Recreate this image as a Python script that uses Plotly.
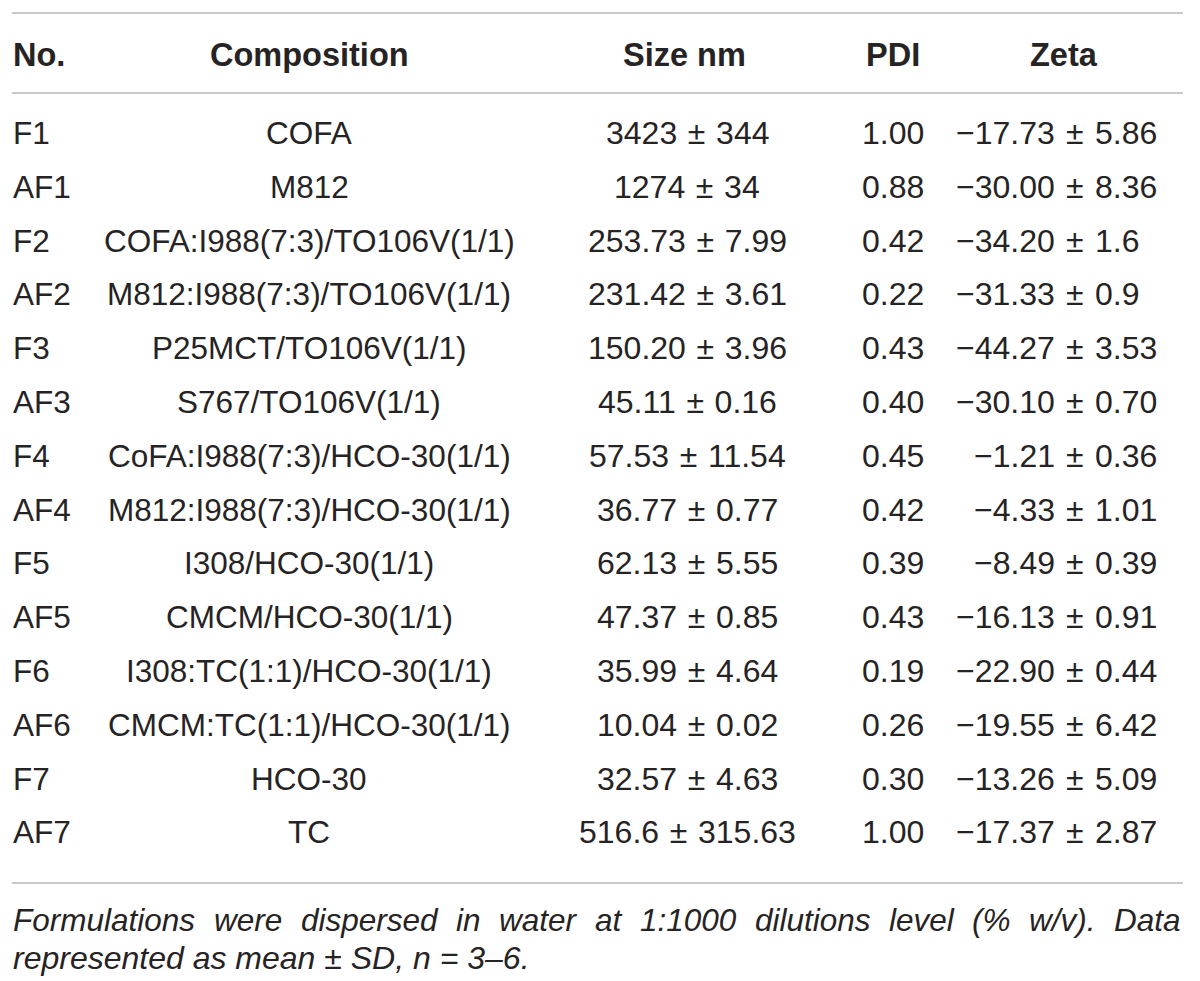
import plotly.graph_objects as go

# table content
headers = ["No.", "Composition", "Size nm", "PDI", "Zeta"]
codes = ["F1", "AF1", "F2", "AF2", "F3", "AF3", "F4", "AF4", "F5", "AF5", "F6", "AF6", "F7", "AF7"]
compositions = [
    "COFA", "M812", "COFA:I988(7:3)/TO106V(1/1)", "M812:I988(7:3)/TO106V(1/1)",
    "P25MCT/TO106V(1/1)", "S767/TO106V(1/1)", "CoFA:I988(7:3)/HCO-30(1/1)",
    "M812:I988(7:3)/HCO-30(1/1)", "I308/HCO-30(1/1)", "CMCM/HCO-30(1/1)",
    "I308:TC(1:1)/HCO-30(1/1)", "CMCM:TC(1:1)/HCO-30(1/1)", "HCO-30", "TC",
]
size_mean = ["3423", "1274", "253.73", "231.42", "150.20", "45.11", "57.53", "36.77",
             "62.13", "47.37", "35.99", "10.04", "32.57", "516.6"]
size_sd = ["344", "34", "7.99", "3.61", "3.96", "0.16", "11.54", "0.77",
           "5.55", "0.85", "4.64", "0.02", "4.63", "315.63"]
pdi = ["1.00", "0.88", "0.42", "0.22", "0.43", "0.40", "0.45", "0.42",
       "0.39", "0.43", "0.19", "0.26", "0.30", "1.00"]
zeta_mean = ["−17.73", "−30.00", "−34.20", "−31.33", "−44.27", "−30.10", "−1.21", "−4.33",
             "−8.49", "−16.13", "−22.90", "−19.55", "−13.26", "−17.37"]
zeta_sd = ["5.86", "8.36", "1.6", "0.9", "3.53", "0.70", "0.36", "1.01",
           "0.39", "0.91", "0.44", "6.42", "5.09", "2.87"]
caption1 = "Formulations were dispersed in water at 1:1000 dilutions level (% w/v). Data"
caption2 = "represented as mean ± SD, n = 3–6."

W, H = 1200, 981
OFF = 8                # page margin around the plot div
ROW_H = 53.8           # px per table row
TOP = (OFF - 133) / ROW_H   # row 0 sits at 133px on the page
BOT = TOP + H / ROW_H

def py(p):
    # page pixel -> y axis value
    return (p - 133) / ROW_H

FONT = "Liberation Sans, Arial, sans-serif"
INK = "#262324"
RULE = "#c9c9c9"
FS = 31.5
NUM_FS = 32
SP = "\u2004"   # a little wider than a normal space, around the plus-minus
LEFT, RIGHT = 12, 1180

# helvetica/arial advance widths (per 1000 em), used to justify the caption line
ADV = {"F": 611, "o": 556, "r": 333, "m": 833, "u": 556, "l": 222, "a": 556, "t": 278,
       "i": 222, "n": 556, "s": 500, "w": 722, "e": 556, "d": 556, "p": 556, "1": 556,
       ":": 278, "0": 556, "v": 500, "(": 333, "%": 889, "/": 278, ")": 333, ".": 278,
       "D": 722}

fig = go.Figure()
fig.add_trace(go.Scatter(x=[OFF, W + OFF], y=[TOP, BOT], mode="markers",
                         marker=dict(opacity=0), hoverinfo="skip", showlegend=False))

ann = []
def txt(x, y, s, anchor="center", bold=False, italic=False, size=FS):
    ann.append(dict(x=x, y=y, xref="x", yref="y", text=s, showarrow=False,
                    xanchor=anchor, yanchor="middle", borderpad=0,
                    font=dict(family=FONT, size=size, color=INK,
                              weight="bold" if bold else "normal",
                              style="italic" if italic else "normal")))

# header row
hy = py(55)
txt(LEFT, hy, headers[0], "left", bold=True, size=32.5)
txt(309, hy, headers[1], bold=True, size=32.5)
txt(684, hy, headers[2], bold=True, size=32.5)
txt(893, hy, headers[3], bold=True, size=32.5)
txt(1064, hy, headers[4], bold=True, size=32.5)

# body rows
PM_X = 1075
for i in range(len(codes)):
    txt(LEFT, i, codes[i], "left")
    txt(309, i, compositions[i])
    txt(687, i, size_mean[i] + SP + "±" + SP + size_sd[i], size=NUM_FS)
    txt(893, i, pdi[i], size=NUM_FS)
    txt(PM_X - 19, i, zeta_mean[i], "right", size=NUM_FS)
    txt(PM_X, i, "±", size=NUM_FS)
    txt(PM_X + 19, i, zeta_sd[i], "left", size=NUM_FS)

# caption, first line justified word by word
words = caption1.split(" ")
widths = [sum(ADV[c] for c in w) * FS / 1000 for w in words]
gap = (RIGHT - LEFT - sum(widths)) / (len(words) - 1)
x = LEFT
for w, wd in zip(words, widths):
    txt(x, py(920), w, "left", italic=True)
    x += wd + gap
txt(LEFT, py(958), caption2, "left", italic=True, size=32)

shapes = []
for p in (13, 93, 883):
    shapes.append(dict(type="line", xref="x", yref="y", x0=LEFT, x1=RIGHT + 3,
                       y0=py(p), y1=py(p), line=dict(color=RULE, width=2)))

fig.update_layout(
    width=W, height=H, margin=dict(l=0, r=0, t=0, b=0),
    paper_bgcolor="white", plot_bgcolor="white",
    xaxis=dict(range=[OFF, W + OFF], visible=False, fixedrange=True),
    yaxis=dict(range=[BOT, TOP], visible=False, fixedrange=True),
    annotations=ann, shapes=shapes, showlegend=False,
)
fig.write_html("out.html")
